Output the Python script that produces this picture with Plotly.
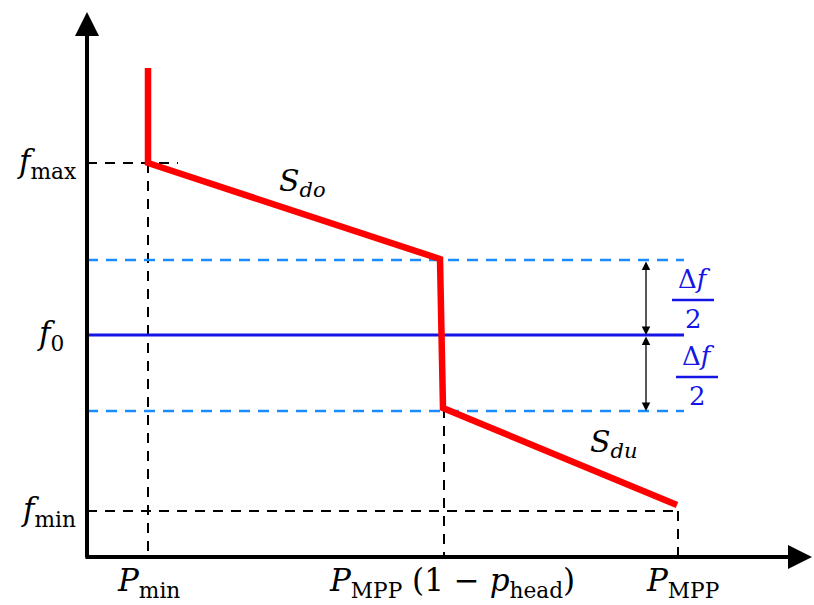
import plotly.graph_objects as go

# ---- data (abstract units, y up) ----
curve_P = [148, 148, 440, 443, 677]
curve_f = [537, 442, 346, 197, 100]

P_min, P_knee, P_mpp = 148, 444, 678
f_max, f_up, f_0, f_low, f_min = 442, 345, 270, 194, 94
f_axis, f_top = 48, 593
P_axis, P_right = 87, 812
band_end = 684
arrow_P = 646

y_labels = ["<i>f</i><sub>max</sub>", "<i>f</i><sub>0</sub>", "<i>f</i><sub>min</sub>"]
x_labels = ["<i>P</i><sub>min</sub>", "<i>P</i><sub>MPP</sub> (1 − <i>p</i><sub>head</sub>)", "<i>P</i><sub>MPP</sub>"]

FONT = "DejaVu Serif"
fig = go.Figure()

def line(xs, ys, color, width, dash="solid"):
    fig.add_trace(go.Scatter(x=xs, y=ys, mode="lines", line=dict(color=color, width=width, dash=dash),
                             hoverinfo="skip", showlegend=False))

kd = "10px,8px"
line([P_axis, 178], [f_max, f_max], "black", 2, kd)
line([P_min, P_min], [f_max, f_axis], "black", 2, kd)
line([P_axis, P_mpp + 2], [f_min, f_min], "black", 2, kd)
line([P_knee, P_knee], [curve_f[3], f_axis], "black", 2, kd)
line([P_mpp, P_mpp], [f_min, f_axis], "black", 2, kd)
line([P_axis, band_end], [f_up, f_up], "#1a8cff", 2.5, "11px,8px")
line([P_axis, band_end], [f_low, f_low], "#1a8cff", 2.5, "11px,8px")
line([P_axis, band_end], [f_0, f_0], "#1515e6", 3)
fig.add_trace(go.Scatter(x=curve_P, y=curve_f, mode="lines", line=dict(color="#ff0000", width=6.5),
                         hoverinfo="skip", showlegend=False))

ann = []
ann.append(dict(x=P_axis, y=f_top, ax=P_axis, ay=f_axis - 2, xref="x", yref="y", axref="x", ayref="y",
                showarrow=True, arrowhead=2, arrowwidth=4, arrowsize=1.2, arrowcolor="black", text=""))
ann.append(dict(x=P_right, y=f_axis, ax=P_axis - 3, ay=f_axis, xref="x", yref="y", axref="x", ayref="y",
                showarrow=True, arrowhead=2, arrowwidth=4, arrowsize=1.2, arrowcolor="black", text=""))
for y0, y1 in [(f_up, f_0), (f_0, f_low)]:
    ann.append(dict(x=arrow_P, y=y1, ax=arrow_P, ay=y0, xref="x", yref="y", axref="x", ayref="y",
                    showarrow=True, arrowhead=2, startarrowhead=2, arrowside="end+start", arrowwidth=1.3,
                    arrowsize=1.3, startarrowsize=1.3, arrowcolor="black", text=""))

def txt(x, y, s, size=30, color="black"):
    ann.append(dict(x=x, y=y, xref="x", yref="y", text=s, showarrow=False,
                    font=dict(family=FONT, size=size, color=color), xanchor="center", yanchor="middle"))

for yv, lab, xx in zip([f_max, f_0, f_min], y_labels, [46, 50, 48]):
    txt(xx, yv, lab, 31)
for xv, lab in zip([P_min, 452, 682], x_labels):
    txt(xv, 23, lab, 31)
txt(302, 423, "<i>S</i><sub><i>do</i></sub>", 30)
txt(614, 162, "<i>S</i><sub><i>du</i></sub>", 30)

blue = "#1515e6"
txt(694, 326, "Δ<i>f</i>", 26, blue)
txt(693, 286, "2", 26, blue)
line([672, 714], [305, 305], blue, 2.5)
txt(698, 249, "Δ<i>f</i>", 26, blue)
txt(697, 209, "2", 26, blue)
line([676, 718], [228, 228], blue, 2.5)

fig.update_layout(width=814, height=605, margin=dict(l=0, r=0, t=0, b=0),
                  paper_bgcolor="white", plot_bgcolor="white", annotations=ann,
                  xaxis=dict(range=[0, 814], visible=False, fixedrange=True),
                  yaxis=dict(range=[0, 605], visible=False, fixedrange=True))
fig.write_html("out.html")
